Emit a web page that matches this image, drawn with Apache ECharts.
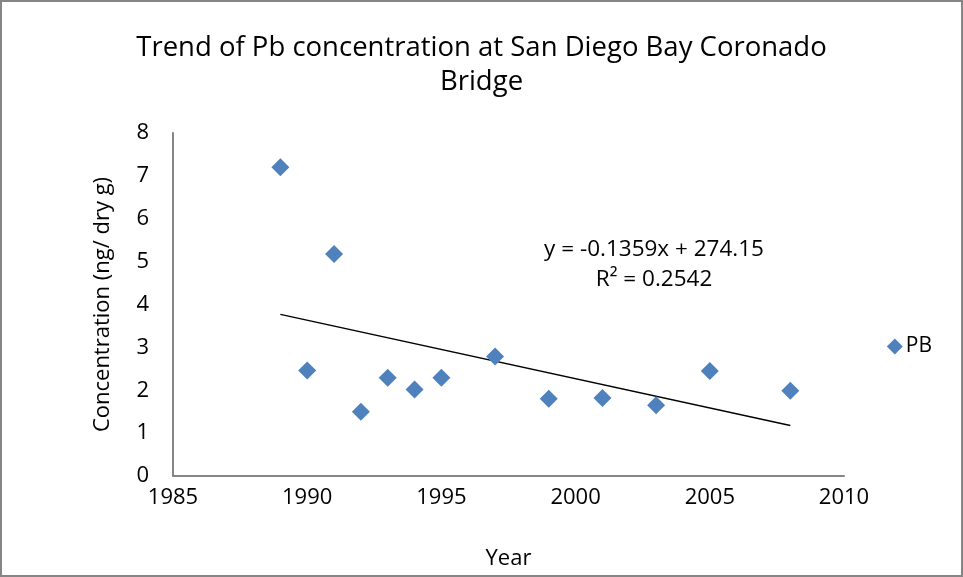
<!DOCTYPE html>
<html>
<head>
<meta charset="utf-8">
<title>Trend of Pb concentration</title>
<script src="https://cdn.jsdelivr.net/npm/echarts@6/dist/echarts.min.js"></script>
<style>
  html, body { margin: 0; padding: 0; background: #fff; }
  #chart { width: 963px; height: 577px; box-sizing: border-box; border: 2px solid #868686; }
</style>
</head>
<body>
<div id="chart"></div>
<script>
// 数据
var years = [1989, 1990, 1991, 1992, 1993, 1994, 1995, 1997, 1999, 2001, 2003, 2005, 2008];
var pbValues = [7.2, 2.46, 5.18, 1.5, 2.29, 2.02, 2.29, 2.79, 1.8, 1.82, 1.65, 2.45, 1.99];
// 趋势线两端
var trendYears = [1989, 2008];
var trendValues = [3.77, 1.18];
var xTicks = [1985, 1990, 1995, 2000, 2005, 2010];
var yTicks = [0, 1, 2, 3, 4, 5, 6, 7, 8];

var font = "'Open Sans', sans-serif";
var diamond = 'path://M0,-1L1,0L0,1L-1,0Z';

var myChart = echarts.init(document.getElementById('chart'));
myChart.setOption({
	animation: false,
	title: {
		text: 'Trend of Pb concentration at San Diego Bay Coronado\nBridge',
		left: 'center',
		top: 24,
		textStyle: {
			fontFamily: font,
			fontSize: 27.5,
			fontWeight: 'normal',
			color: '#000',
			lineHeight: 34
		}
	},
	legend: {
		data: [{ name: 'PB', icon: diamond }],
		right: 24,
		top: 329,
		itemWidth: 16,
		itemHeight: 16,
		itemGap: 6,
		textStyle: { fontFamily: font, fontSize: 21, color: '#000', padding: [0, 0, 0, -2] }
	},
	grid: { left: 171, right: 117, top: 131, bottom: 97 },
	xAxis: {
		type: 'value',
		min: xTicks[0],
		max: xTicks[xTicks.length - 1],
		interval: 5,
		name: 'Year',
		nameLocation: 'middle',
		nameGap: 72,
		nameTextStyle: { fontFamily: font, fontSize: 22, color: '#000' },
		axisLine: { show: true, lineStyle: { color: '#868686', width: 2 } },
		axisTick: { show: false },
		splitLine: { show: false },
		axisLabel: {
			fontFamily: font, fontSize: 22, color: '#000', margin: 11,
			formatter: function (v) { return String(v); }
		}
	},
	yAxis: {
		type: 'value',
		min: yTicks[0],
		max: yTicks[yTicks.length - 1],
		interval: 1,
		name: 'Concentration (ng/ dry g)',
		nameLocation: 'middle',
		nameGap: 59,
		nameTextStyle: { fontFamily: font, fontSize: 22, color: '#000' },
		axisLine: { show: true, lineStyle: { color: '#868686', width: 2 } },
		axisTick: { show: false },
		splitLine: { show: false },
		axisLabel: { fontFamily: font, fontSize: 22, color: '#000', margin: 24 }
	},
	series: [
		{
			name: 'PB',
			type: 'scatter',
			symbol: diamond,
			symbolSize: 18,
			itemStyle: { color: '#4F81BD', opacity: 1 },
			data: years.map(function (y, i) { return [y, pbValues[i]]; })
		},
		{
			name: 'trend',
			type: 'line',
			symbol: 'none',
			silent: true,
			lineStyle: { color: '#000', width: 1.5 },
			data: trendYears.map(function (y, i) { return [y, trendValues[i]]; }),
			z: 1
		}
	],
	graphic: [
		{
			type: 'text',
			x: 652,
			y: 233,
			style: {
				text: 'y = -0.1359x + 274.15\nR² = 0.2542',
				align: 'center',
				verticalAlign: 'top',
				fontFamily: font,
				fontSize: 22.5,
				lineHeight: 30,
				fill: '#000'
			}
		}
	]
});
</script>
</body>
</html>
